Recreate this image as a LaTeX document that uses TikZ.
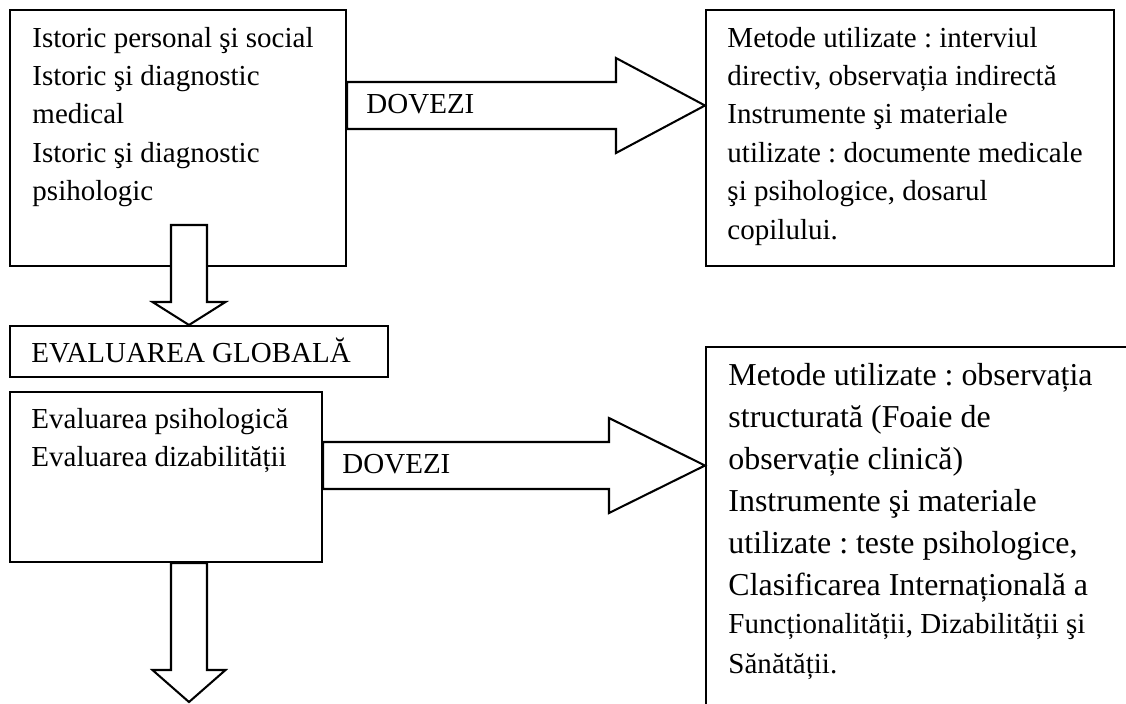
\documentclass[tikz,border=0pt]{standalone}
\usepackage{fontspec}
\setmainfont{Liberation Serif}
\frenchspacing
\usetikzlibrary{calc,fit}

% block arrow pointing right: start, tip, half body, head length, half head
\newcommand{\rightblock}[5]{%
  \draw[blockarrow] ($(#1)+(0,-#3)$) -- ($(#2)+(-#4,-#3)$) -- ($(#2)+(-#4,-#5)$) -- (#2)
    -- ($(#2)+(-#4,#5)$) -- ($(#2)+(-#4,#3)$) -- ($(#1)+(0,#3)$) -- cycle;}
% block arrow pointing down: start, tip, half body, head length, half head
\newcommand{\downblock}[5]{%
  \draw[blockarrow] ($(#1)+(-#3,0)$) -- ($(#2)+(-#3,-#4)$) -- ($(#2)+(-#5,-#4)$) -- (#2)
    -- ($(#2)+(#5,-#4)$) -- ($(#2)+(#3,-#4)$) -- ($(#1)+(#3,0)$) -- cycle;}

\begin{document}
\begin{tikzpicture}[x=0.41379pt,y=-0.41379pt,
    box/.style={draw, line width=0.85pt, inner sep=0pt},
    blockarrow/.style={draw, fill=white, line width=0.85pt, line join=miter},
    txt/.style={anchor=base west, inner sep=0pt, text width=200pt, align=flush left,
                font=\fontsize{12}{15.9}\selectfont}]
    \useasboundingbox (0,0) rectangle (1126,703);
    \clip (0,0) rectangle (1126,703);

    % boxes
    \node [box, fit={(10,10) (346,266)}] (hist) {};
    \node [box, fit={(706,10) (1114,266)}] (meth1) {};
    \node [box, fit={(10,326) (388,377)}] (global) {};
    \node [box, fit={(10,392) (322,562)}] (eval) {};
    \node [box, fit={(706,347) (1160,740)}] (meth2) {};

    % arrows
    \coordinate (t1) at (meth1.west |- 0,105.5);
    \coordinate (s1) at (hist.east |- t1);
    \rightblock{s1}{t1}{23.5}{89}{47.5}
    \coordinate (t2) at (meth2.west |- 0,465.5);
    \coordinate (s2) at (eval.east |- t2);
    \rightblock{s2}{t2}{23.5}{96}{47.5}
    \coordinate (d1s) at (189,225);
    \coordinate (d1t) at (global.north -| d1s);
    \downblock{d1s}{d1t}{18}{23}{36.5}
    \coordinate (d2s) at (eval.south -| d1s);
    \coordinate (d2t) at (189,702);
    \downblock{d2s}{d2t}{18}{32}{36.5}

    % texts
    \node [txt] (histtxt) at (32,47) {Istoric personal şi social\\Istoric şi diagnostic\\medical\\Istoric şi diagnostic\\psihologic};
    \node [txt] (meth1txt) at (727,47) {Metode utilizate : interviul\\directiv, observația indirectă\\Instrumente şi materiale\\utilizate : documente medicale\\şi psihologice, dosarul\\copilului.};
    \node [txt] (globaltxt) at (31,362) {EVALUAREA GLOBALĂ};
    \node [txt, font=\fontsize{12}{16.1}\selectfont] (evaltxt) at (31,428) {Evaluarea psihologică\\Evaluarea dizabilității};
    \node [txt, font=\fontsize{13.2}{17.4}\selectfont] (meth2txt) at (728,385) {Metode utilizate : observația\\structurată (Foaie de\\observație clinică)\\Instrumente şi materiale\\utilizate : teste psihologice,\\Clasificarea Internațională a};
    \node [txt, font=\fontsize{12}{16.55}\selectfont] (meth2end) at (728,633) {Funcționalității, Dizabilității şi\\Sănătății.};
    \node [txt] (dovezi1) at (366,113) {DOVEZI};
    \node [txt] (dovezi2) at (342,473) {DOVEZI};
\end{tikzpicture}
\end{document}
